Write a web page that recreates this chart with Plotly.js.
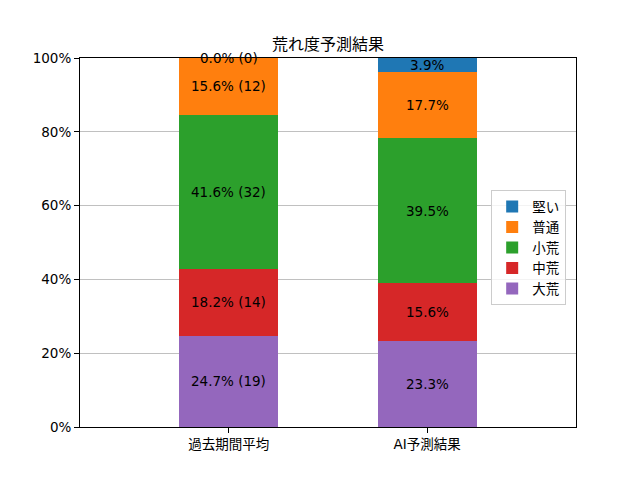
<!DOCTYPE html>
<html>
<head>
<meta charset="utf-8">
<script src="https://cdn.plot.ly/plotly-3.0.1.min.js"></script>
<style>body{margin:0;} #chart{width:640px;height:480px;}</style>
</head>
<body>
<div id="chart"></div>
<script>
var categories = ['過去期間平均', 'AI予測結果'];
var levels = ['大荒', '中荒', '小荒', '普通', '堅い'];
var colors = ['#9467bd', '#d62728', '#2ca02c', '#ff7f0e', '#1f77b4'];

var pastPct = [24.7, 18.2, 41.6, 15.6, 0.0];
var pastCount = [19, 14, 32, 12, 0];
var aiPct = [23.3, 15.6, 39.5, 17.7, 3.9];

var yTicks = [0, 20, 40, 60, 80, 100];
var yTickText = ['0%', '20%', '40%', '60%', '80%', '100%'];

var font = '"DejaVu Sans", "Noto Sans CJK JP", sans-serif';
var yMax = 100;

var traces = [];
var annotations = [];
var cumPast = 0, cumAi = 0;
for (var i = 0; i < levels.length; i++) {
  traces.push({
    type: 'bar',
    name: levels[i],
    x: categories,
    y: [pastPct[i], aiPct[i]],
    width: 0.5,
    marker: {color: colors[i], line: {width: 0}},
    hoverinfo: 'none'
  });
  annotations.push({
    x: categories[0], y: Math.min(cumPast + pastPct[i] / 2, yMax),
    xref: 'x', yref: 'y', showarrow: false,
    text: pastPct[i].toFixed(1) + '% (' + pastCount[i] + ')',
    font: {family: font, size: 13.5, color: '#000'}
  });
  annotations.push({
    x: categories[1], y: Math.min(cumAi + aiPct[i] / 2, yMax),
    xref: 'x', yref: 'y', showarrow: false,
    text: aiPct[i].toFixed(1) + '%',
    font: {family: font, size: 13.5, color: '#000'}
  });
  cumPast += pastPct[i];
  cumAi += aiPct[i];
}

var layout = {
  width: 640, height: 480,
  margin: {l: 80, r: 64, t: 58, b: 53},
  barmode: 'stack',
  paper_bgcolor: '#fff', plot_bgcolor: '#fff',
  font: {family: font, size: 13.5, color: '#000'},
  title: {text: '荒れ度予測結果', font: {family: font, size: 16, color: '#000'},
          x: 0.5, xref: 'paper', y: 1, yref: 'paper', yanchor: 'bottom', pad: {b: 8}},
  xaxis: {
    type: 'category', range: [-0.75, 1.75],
    showline: true, linecolor: '#000', linewidth: 1, mirror: true,
    ticks: 'outside', ticklen: 5, tickcolor: '#000', showgrid: false,
    tickfont: {family: font, size: 13.5}
  },
  yaxis: {
    range: [0, yMax], tickmode: 'array', tickvals: yTicks, ticktext: yTickText,
    showline: true, linecolor: '#000', linewidth: 1, mirror: true,
    ticks: 'outside', ticklen: 5, tickcolor: '#000',
    showgrid: true, gridcolor: '#b0b0b0', gridwidth: 0.8, zeroline: false,
    tickfont: {family: font, size: 13.5}, layer: 'below traces'
  },
  legend: {
    x: 0.829, y: 0.642, xanchor: 'left', yanchor: 'top',
    traceorder: 'reversed', bgcolor: 'rgba(255,255,255,0.8)',
    bordercolor: '#cccccc', borderwidth: 1,
    font: {family: font, size: 13.5}
  },
  annotations: annotations
};

Plotly.newPlot('chart', traces, layout, {displayModeBar: false, staticPlot: true});
</script>
</body>
</html>
